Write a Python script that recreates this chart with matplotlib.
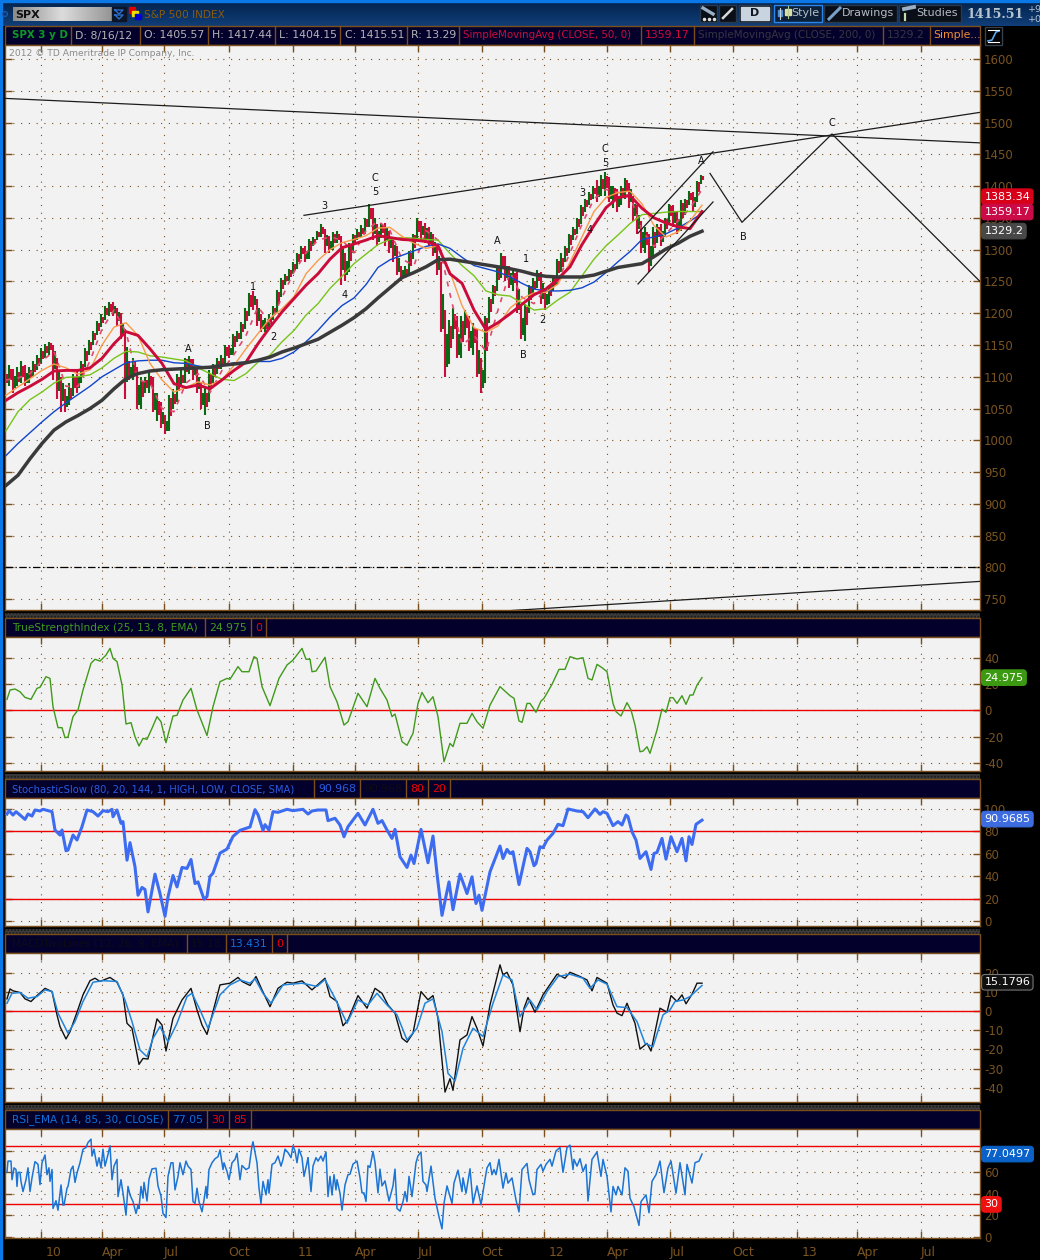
import matplotlib
matplotlib.use('Agg')
import matplotlib.pyplot as plt
import numpy as np
from matplotlib.colors import LinearSegmentedColormap
from matplotlib.patches import Rectangle, Circle

plt.rcParams['axes.unicode_minus'] = False

# x axis is in sessions (one trading day is one pixel wide on this chart)
tick_pos = [40.5, 101.5, 164, 228.5, 292.5, 354.5, 417.5, 481.5, 544, 606.5, 669.5, 732.5, 796.5, 856.5, 920.5]
tick_txt = ['10', 'Apr', 'Jul', 'Oct', '11', 'Apr', 'Jul', 'Oct', '12', 'Apr', 'Jul', 'Oct', '13', 'Apr', 'Jul']

# candles, one for every 4 sessions
closes = [1095,1105,1090,1100,1110,1095,1105,1115,1125,1135,
          1145,1150,1130,1090,1080,1060,1075,1095,1090,1115,
          1135,1150,1165,1180,1190,1205,1210,1205,1195,1170,
          1120,1105,1115,1060,1085,1090,1095,1050,1050,1030,
          1020,1060,1065,1095,1095,1125,1125,1110,1085,1060,
          1065,1100,1110,1120,1125,1145,1140,1160,1165,1180,
          1200,1225,1220,1195,1180,1180,1190,1205,1230,1250,
          1255,1265,1275,1290,1300,1290,1310,1315,1325,1330,
          1315,1305,1320,1320,1290,1270,1300,1320,1325,1330,
          1345,1360,1335,1320,1335,1325,1310,1300,1270,1260,
          1265,1290,1320,1340,1330,1325,1320,1300,1275,1180,
          1130,1170,1190,1140,1180,1190,1150,1170,1110,1090,
          1190,1220,1240,1270,1285,1260,1250,1260,1210,1170,
          1205,1240,1245,1260,1230,1220,1240,1250,1280,1280,
          1300,1320,1330,1345,1365,1375,1385,1395,1390,1405,
          1410,1385,1395,1375,1395,1405,1385,1360,1340,1310,
          1320,1285,1320,1330,1320,1345,1365,1350,1335,1370,
          1375,1385,1375,1405,1415]
highs = [1115,1118,1112,1115,1125,1118,1115,1125,1135,1145,
         1152,1155,1150,1130,1100,1080,1090,1105,1110,1125,
         1145,1158,1172,1188,1198,1212,1218,1217,1208,1200,
         1175,1125,1130,1115,1100,1100,1108,1100,1075,1060,
         1040,1072,1080,1105,1110,1130,1132,1128,1115,1090,
         1085,1110,1120,1130,1135,1150,1150,1167,1172,1186,
         1208,1232,1235,1222,1198,1192,1198,1212,1236,1255,
         1262,1270,1280,1295,1305,1305,1316,1320,1330,1340,
         1332,1322,1328,1330,1322,1295,1310,1325,1332,1338,
         1350,1372,1365,1340,1342,1342,1330,1315,1305,1275,
         1275,1298,1325,1350,1345,1342,1335,1325,1305,1280,
         1205,1190,1208,1195,1195,1205,1195,1185,1175,1130,
         1195,1225,1245,1275,1295,1290,1275,1268,1265,1215,
         1215,1245,1255,1268,1265,1240,1245,1260,1285,1295,
         1305,1325,1335,1350,1370,1380,1390,1400,1410,1418,
         1422,1415,1400,1395,1400,1413,1405,1385,1370,1345,
         1335,1325,1335,1340,1340,1350,1372,1370,1360,1378,
         1380,1392,1390,1408,1418]
lows = [1085,1085,1075,1085,1090,1085,1090,1100,1110,1120,
        1130,1135,1095,1065,1045,1045,1055,1070,1075,1090,
        1115,1135,1150,1165,1178,1190,1195,1195,1180,1160,
        1065,1095,1095,1050,1050,1075,1075,1045,1030,1020,
        1010,1015,1050,1060,1085,1090,1105,1095,1075,1050,
        1040,1060,1090,1105,1112,1120,1130,1135,1155,1160,
        1175,1195,1205,1180,1170,1170,1175,1190,1200,1225,
        1245,1250,1262,1270,1285,1280,1285,1305,1315,1320,
        1295,1295,1300,1310,1245,1250,1265,1295,1315,1320,
        1325,1335,1315,1305,1318,1305,1295,1280,1260,1250,
        1255,1260,1285,1315,1315,1310,1305,1290,1260,1170,
        1100,1120,1160,1130,1130,1165,1140,1135,1100,1075,
        1090,1185,1215,1235,1255,1250,1240,1235,1200,1160,
        1157,1200,1230,1240,1215,1205,1215,1235,1245,1265,
        1280,1295,1315,1325,1340,1360,1370,1380,1375,1385,
        1385,1375,1365,1360,1370,1380,1365,1345,1325,1295,
        1295,1265,1285,1310,1305,1320,1340,1335,1325,1330,
        1355,1370,1360,1375,1404]

# moving averages, read every 12 sessions
sma200 = [929,945,971,995,1016,1029,1039,1050,1063,1081,1097,1105,1109,1111,1112,1113,1114,1115,1118,1120,
          1122,1126,1131,1139,1145,1152,1159,1170,1181,1193,1207,1224,1240,1256,1264,1273,1284,1285,1282,1279,
          1276,1273,1270,1266,1261,1258,1257,1257,1257,1260,1266,1272,1275,1278,1289,1301,1310,1321,1329]
sma_blue = [976,995,1012,1029,1045,1059,1072,1085,1100,1111,1122,1125,1126,1126,1122,1121,1117,1114,1118,1122,
            1123,1124,1124,1129,1139,1155,1173,1194,1212,1224,1245,1272,1284,1291,1298,1305,1309,1302,1288,1275,
            1270,1265,1257,1247,1238,1235,1235,1236,1240,1249,1264,1281,1297,1316,1320,1325,1334,1345,1357]
sma_green = [1015,1045,1064,1076,1090,1099,1100,1103,1114,1129,1140,1139,1133,1131,1128,1125,1114,1105,1096,1094,
             1105,1123,1134,1155,1173,1197,1215,1239,1258,1278,1293,1308,1316,1319,1318,1316,1315,1294,1275,1259,
             1235,1229,1227,1216,1205,1207,1221,1233,1259,1285,1306,1323,1341,1355,1357,1359,1360,1360,1360]
sma_red = [1063,1075,1085,1096,1109,1110,1110,1114,1129,1152,1171,1165,1144,1121,1089,1083,1087,1081,1095,1110,
           1123,1152,1178,1202,1223,1244,1262,1285,1303,1309,1315,1322,1319,1316,1315,1313,1306,1262,1247,1205,
           1174,1185,1199,1214,1229,1238,1254,1273,1308,1338,1366,1382,1385,1365,1350,1342,1336,1333,1360]
sma_orange = [1071,1084,1097,1110,1120,1114,1104,1111,1150,1178,1185,1165,1121,1095,1076,1083,1092,1087,1095,1118,
              1144,1168,1192,1207,1226,1262,1283,1300,1311,1316,1322,1334,1335,1321,1310,1302,1306,1265,1212,1177,
              1170,1180,1208,1223,1232,1233,1246,1280,1320,1360,1382,1390,1392,1372,1338,1320,1328,1345,1370]
sma_dash = [1095,1098,1105,1125,1140,1085,1085,1125,1175,1205,1170,1095,1090,1050,1045,1090,1105,1075,1110,1135,
            1165,1210,1185,1225,1265,1295,1315,1320,1315,1295,1330,1345,1330,1285,1275,1330,1315,1230,1150,1165,
            1140,1205,1265,1225,1215,1240,1250,1295,1340,1380,1395,1390,1385,1330,1305,1325,1345,1365,1395]

# trend lines as (session, price)
top_line = [(5, 1538), (980, 1468)]
rise_line = [(304, 1354), (980, 1516)]
floor_line = [(510, 732), (980, 778)]
path_line = [(710, 1420), (742, 1343), (832, 1482), (980, 1250)]
chan_low = [(638, 1246), (713, 1375)]
chan_high = [(638, 1326), (713, 1454)]

wave_txt = ['A','B','1','2','3','C','5','4','A','1','B','2','3','4','C','5','A','B','C']
wave_x = [188,207,253,273,324,375,375,345,497,526,523,542,582,590,605,605,701,743,832]
wave_y = [1143,1022,1242,1162,1368,1413,1391,1228,1313,1285,1135,1190,1389,1331,1458,1436,1439,1320,1499]

tsi_pts = [(7,8.4),(10,15.5),(15,16.3),(20,14.2),(25,9.9),(31,8.4),(37,16.8),(40,17.6),(46,25.7),(50,24.4),(53,2.8),(58,-13.2),
           (62,-13.2),(65,-20.9),(68,-20.4),(73,-4.8),(78,0.3),(83,15.5),(91,35.9),(95,39),(100,37.6),(106,42.2),(110,47.3),(113,39.7),
           (117,37.2),(122,19.5),(126,-10.4),(131,-9.4),(135,-20.1),(139,-27.2),(143,-21.4),(147,-22.1),(152,-13.7),(157,-4.8),(161,-8.7),
           (166,-24.7),(173,-4.3),(177,-3.8),(183,7.9),(191,16.8),(197,0.3),(201,-7.4),(207,-19.2),(213,2.8),(220,21.9),(227,24.4),(230,23.7),
           (238,33.4),(242,29.5),(249,29.5),(254,41),(257,39.7),(262,18.1),(270,3.6),(279,24.4),(287,34.6),(293,38.4),(302,47.3),(306,39),
           (310,39),(312,29.5),(316,30),(325,40.5),(330,18.1),(337,6.6),(344,-11.2),(348,-8.7),(358,13),(367,2.8),(375,24.4),(380,16.8),
           (387,7.9),(392,-4.8),(395,-2.8),(402,-23.9),(407,-26.7),(413,-17.6),(418,5.3),(422,13.7),(428,5.8),(433,10.4),(438,-4.8),(444,-39.2),
           (450,-25.2),(453,-27.7),(460,-9.9),(467,-9.9),(472,-2.3),(477,-8.7),(483,-13.7),(490,4),(500,18.1),(510,11.2),(514,9.2),(519,-8.1),
           (522,-9.2),(527,5.3),(530,5.3),(536,-1.5),(541,7.1),(544,9.2),(552,19.8),(559,31.3),(565,31.3),(570,41),(577,39.2),(583,40.2),
           (588,24.4),(592,23.2),(597,35.1),(602,32.6),(607,29.5),(613,5.3),(616,-1),(621,-4.3),(627,5.9),(631,0.3),(635,-11.2),(640,-31.6),
           (643,-31.1),(647,-27.8),(650,-32.8),(657,-15),(662,1),(666,-1.5),(670,9.7),(673,9.7),(677,5.3),(682,11.2),(686,4.6),(690,11.7),
           (693,11.7),(697,19.3),(702,25)]

stoch_pts = [(7,95.5),(9,98.5),(13,94.6),(16,97.6),(20,94.6),(25,90.7),(28,95.5),(32,93.7),(35,99.1),(40,98.2),(43,99.7),(52,97.6),
             (55,81.2),(60,76.7),(62,81.2),(66,62.7),(68,63.3),(73,76.7),(77,72.3),(82,84.2),(87,99.1),(93,97.6),(98,93.7),(103,98.5),
             (108,97.6),(112,99.7),(113,93.1),(117,99.1),(121,87.2),(123,88.7),(127,54.3),(130,69.9),(135,48.4),(138,23),(142,29.9),(145,28.1),
             (148,8.1),(155,41.8),(160,24.5),(165,4.2),(168,21.5),(173,40.6),(177,30.4),(182,47.8),(187,46.9),(191,54.9),(195,33.4),(198,34.9),
             (204,19.4),(207,21.8),(210,39.7),(213,42.7),(220,60.6),(227,64.2),(233,75.5),(240,80.9),(250,83.9),(255,99.4),(258,94.9),(263,80.9),
             (265,86),(269,81.2),(273,97.6),(278,97),(287,99.7),(293,98.5),(303,99.7),(308,95.5),(312,98.2),(318,99.1),(326,99.1),(328,89.6),
             (335,91.7),(340,85.7),(344,75.2),(348,84.2),(358,96.1),(365,85.7),(373,99.7),(378,87.2),(382,89.6),(387,81.2),(392,73.7),(395,81.8),
             (400,57.3),(407,47.8),(411,58.8),(414,51.3),(421,81.8),(428,52),(433,75.8),(437,42.2),(442,5),(449,34.9),(453,10.1),(460,41.8),
             (467,24.5),(472,39.4),(476,15.6),(479,23),(482,9.5),(490,43.9),(500,66.9),(503,55.8),(507,63.9),(510,60.3),(513,61.8),(519,32.5),
             (527,64.8),(530,61.8),(534,49.3),(536,51.3),(540,66.3),(543,65.4),(547,72.2),(553,78.2),(558,86.3),(563,85.1),(568,100),(577,98.2),
             (583,97.6),(588,92.2),(595,100),(600,95.2),(603,97.6),(607,96.1),(613,85.1),(618,88.7),(622,85.7),(626,94.6),(628,93.1),(632,79.7),
             (636,72.2),(640,55.8),(646,61.8),(651,46),(654,60.3),(657,61.2),(662,73.7),(666,55.2),(671,75.2),(677,61.8),(682,73.7),(686,53.7),
             (689,75.2),(692,68.3),(696,86.3),(702,90)]

macd_pts = [(7,6.5),(10,11.7),(13,10.7),(20,9.8),(25,6.5),(31,5.1),(37,8.2),(45,12),(52,10.3),(57,-1.9),(60,-8),(66,-14.5),(70,-10.7),
            (77,-0.5),(83,8.6),(90,16),(95,17.3),(100,15.6),(110,17.7),(117,15.2),(123,8.6),(127,-6.3),(132,-8.9),(139,-27.8),(143,-24.7),
            (148,-25),(157,-4),(162,-7.2),(166,-20.8),(173,-3.7),(182,5.9),(191,12),(197,0.7),(202,-7.2),(207,-12.1),(213,-0.2),(220,13.8),
            (230,14.7),(238,17.7),(242,15.6),(250,13.5),(256,18.2),(262,11.2),(270,2.4),(278,12),(287,15.2),(293,14.7),(302,15.9),(312,11.2),
            (325,17.3),(330,7.7),(337,5.1),(343,-7.6),(348,-4.5),(358,8.2),(367,1.6),(375,12),(382,9.4),(388,3.3),(395,-1),(402,-14.1),(407,-16.2),
            (413,-11.5),(421,10.3),(428,6),(433,8.2),(438,-3.7),(445,-42.3),(450,-35.3),(453,-41.4),(460,-15),(467,-12.4),(472,-2.8),(477,-8.9),
            (483,-18.2),(490,3.3),(500,24.3),(503,19),(507,20.4),(513,13.8),(520,-10.7),(524,1.6),(528,7.2),(535,-0.5),(543,8.6),(557,19.4),
            (565,17.3),(570,20.4),(580,18.2),(587,16.4),(592,10.7),(597,17.7),(607,14.7),(613,3.3),(617,-1),(622,-2.3),(627,4.2),(635,-6.3),
            (640,-19.8),(647,-16.8),(651,-20.8),(660,1.6),(667,-0.5),(671,8.2),(677,5.1),(682,8.6),(686,3.9),(692,8.9),(697,14.7),(702,14.7)]

signal_pts = [(7,4.2),(12,9.4),(20,9.8),(28,6.8),(37,7.7),(45,11.2),(52,10.3),(58,-1),(68,-11.5),(75,-5.4),(83,5.1),(93,15.2),(103,16),
              (117,15.6),(125,5.9),(132,-5.4),(140,-20.3),(147,-23.8),(153,-14.2),(160,-8),(168,-16),(177,-6.3),(187,7.7),(192,9.4),(200,0.7),
              (208,-8.9),(220,8.6),(230,13.8),(240,16.4),(250,14.7),(255,17),(263,9.4),(271,4.2),(283,13.8),(302,14.7),(317,13),(325,16.6),(335,6.8),
              (347,-6.3),(358,5.9),(368,3.3),(377,9.4),(387,3.3),(397,-1.9),(407,-15),(417,-8.9),(425,4.2),(433,6.5),(442,-10.7),(448,-32.5),
              (455,-36.5),(463,-19.4),(473,-8.9),(483,-13.2),(493,4.2),(503,19),(512,16.4),(520,-2.8),(530,5.9),(537,0.7),(547,10.3),(558,18.2),
              (570,19.4),(583,17.3),(590,12),(598,16.4),(607,14.2),(617,2.4),(627,1.9),(637,-5.4),(645,-16.8),(653,-18.6),(663,-1.9),(670,0.7),
              (675,5.1),(683,5.9),(690,7.7),(702,13.5)]

rsi_pts = [(7,60.4),(8,70.5),(11,70.5),(12,53.1),(14,64.2),(16,62.6),(17,46.8),(18,60),(20,60),(21,51.5),(23,42),(26,53.1),(28,64.2),(30,42),
           (32,54.8),(35,70),(38,67.5),(40,48.5),(42,69),(45,76.2),(47,57.8),(49,64.2),(50,51.5),(52,62.6),(53,26.2),(56,33.5),(58,24.6),(61,48.2),
           (63,29.4),(64,29.4),(67,45.2),(68,46.8),(71,62.6),(73,65.8),(75,50.6),(77,59.4),(80,68.9),(83,81.6),(86,83.2),(88,87.9),(91,91),(92,75.2),
           (94,81.6),(97,65.8),(99,73.7),(101,64.2),(103,81.6),(105,65.8),(108,76.8),(110,84.8),(112,53.1),(114,65.8),(117,72.1),(118,37.3),(121,53.1),
           (123,40.5),(126,19.9),(128,46.8),(130,38.9),(133,32.6),(136,21.5),(138,29.4),(139,26.2),(141,46.8),(143,35.8),(144,50.6),(147,33.2),(149,53.7),
           (152,63.2),(156,63.8),(158,47.3),(161,37.8),(163,21.5),(166,17.7),(168,56.2),(171,68.9),(173,68.9),(175,43.6),(178,56.2),(180,68.9),(183,57.8),
           (186,70.5),(188,65.8),(191,62.6),(193,32.6),(195,31),(197,45.2),(199,32.6),(202,23.1),(204,34.1),(206,46.8),(207,35.8),(209,62.6),(212,68.9),
           (215,72.7),(218,74.6),(220,80.9),(223,62.6),(224,68.9),(227,60.8),(229,53.1),(232,68.9),(235,72.1),(237,77.8),(240,53.1),(242,66.4),(246,62.6),
           (249,64.2),(252,84.8),(253,88.6),(257,68.9),(259,45.2),(261,30.9),(263,51.5),(266,38.9),(268,53.1),(269,40.5),(272,67.4),(275,69),(278,75.2),
           (281,65.8),(283,72.1),(285,81.6),(288,78.5),(291,73.7),(293,84.8),(295,80),(297,69),(299,81.6),(302,73.7),(304,56.2),(307,68.9),(308,73.7),
           (311,42),(313,65.8),(316,73.7),(318,70.5),(321,75.2),(323,70.5),(326,79),(328,37.3),(330,56.2),(332,38.9),(334,57.8),(336,43.6),(337,53.1),
           (340,40.5),(342,24.6),(345,48.2),(348,57.8),(350,58.2),(353,67.7),(357,70.5),(360,55),(362,40.8),(364,40.8),(366,32.8),(368,66.2),(370,64.6),
           (373,79.5),(375,69.4),(378,40.8),(380,63),(382,47.3),(385,52),(389,33.2),(393,47.3),(395,63),(397,26.2),(400,23.7),(403,32.6),(405,42),(407,32.6),
           (409,56.2),(412,37.3),(416,69),(418,75.4),(421,79),(423,51.5),(426,48.2),(427,42),(431,65.8),(435,35.8),(439,18.4),(442,7.2),(444,31),(447,47.3),
           (452,31),(454,50),(458,62),(462,42),(463,54.8),(466,40.5),(470,63.3),(473,31),(477,47.3),(481,29.7),(485,53.4),(487,64.2),(490,69),(492,57.8),
           (494,62.6),(496,57.8),(499,72.1),(503,45.2),(506,59.4),(508,49.9),(512,54.8),(516,34.1),(519,23),(522,62.6),(527,68.3),(529,53.1),(533,38.9),
           (535,40.5),(537,62.6),(541,67.4),(543,61),(546,67.4),(550,72.1),(552,65.8),(556,80),(560,83.2),(563,60),(567,83.2),(570,85.4),(573,62.6),(574,72.1),
           (577,65.8),(580,72.7),(583,60.8),(586,67.4),(588,33.2),(592,72.1),(597,79),(601,56.2),(603,72.1),(607,56.2),(611,23),(613,46.8),(616,38.9),(618,46.8),
           (622,38.9),(625,64.2),(628,61),(630,35.8),(634,27.8),(639,10.4),(641,32.6),(646,38.9),(649,22.2),(652,51.5),(656,57.8),(660,70.5),(664,41),(668,64.2),
           (671,70.5),(676,40.5),(680,69),(685,38.9),(687,67.4),(692,50),(695,69),(699,70.5),(702,77)]

W, H = 1040, 1260
BROWN = '#7a4f1c'
NAVY = '#04002c'
PANEL = '#f2f2f2'
UP = '#0a6a14'
DOWN = '#cb0b3a'

fig = plt.figure(figsize=(W / 100, H / 100), dpi=100, facecolor='black')

# window chrome, drawn in pixel coordinates
chrome = fig.add_axes([0, 0, 1, 1], zorder=0)
chrome.axis('off')
top_cmap = LinearSegmentedColormap.from_list('top', ['#04244e', '#103e78'])
chrome.imshow(np.linspace(0, 1, 24).reshape(-1, 1), extent=[0, W, 26, 2], aspect='auto', cmap=top_cmap)
chrome.add_patch(Rectangle((0, 0), W, 2, color='#0a78e6'))
chrome.add_patch(Rectangle((0, 0), 1.5, H, color='#0a78e6'))
grey_cmap = LinearSegmentedColormap.from_list('grey', ['#8c8c8c', '#dcdcdc', '#969696'])
chrome.imshow(np.linspace(0, 1, 60).reshape(1, -1), extent=[13, 112, 21, 7], aspect='auto', cmap=grey_cmap)
chrome.add_patch(Rectangle((112, 7), 14, 14, color='#0b1526'))
chrome.plot([115, 123, 119, 115], [10, 10, 14, 10], color='#2a6cc8', lw=1)
chrome.plot([115, 123, 119, 115], [15, 15, 19, 15], color='#2a6cc8', lw=1)
chrome.add_patch(Circle((5, 14), 2.5, fc='#0a3a80', ec='#1a5cb0', lw=0.8))
chrome.add_patch(Rectangle((129, 7), 6, 6, color='#e00000'))
chrome.add_patch(Rectangle((132, 11), 6, 5, color='#e8e000'))
chrome.add_patch(Rectangle((135, 14), 6, 5, color='#0000d0'))
chrome.text(15, 14.5, 'SPX', color='#101010', fontsize=8, fontweight='bold', va='center')
chrome.text(144, 14.5, 'S&P 500 INDEX', color='#8a5a10', fontsize=7.6, va='center')

# toolbar on the right
for x0, x1, lab in [(700, 717, ''), (719, 736, ''), (739, 771, ''), (774, 822, 'Style'), (824, 897, 'Drawings'), (899, 961, 'Studies')]:
    fc = '#0a0e16' if lab != 'Style' else '#0b2038'
    ec = '#28394e' if lab != 'Style' else '#2a86e8'
    chrome.add_patch(Rectangle((x0, 5), x1 - x0, 17, fc=fc, ec=ec, lw=1))
    if lab:
        chrome.text(x1 - 3, 13, lab, color='#b4bcc4', fontsize=8, va='center', ha='right')
chrome.plot([703, 713], [8, 14], color='#9ab0c4', lw=2.4)
chrome.plot([704, 709, 714], [19, 19, 19], color='#e0e0e0', lw=0, marker='.', ms=3)
chrome.plot([723, 732], [18, 9], color='#d8d8d8', lw=1.8)
chrome.add_patch(Rectangle((741, 7), 28, 13, color='#c8d4e0'))
chrome.text(755, 13.5, 'D', color='#101820', fontsize=8, fontweight='bold', ha='center', va='center')
chrome.plot([780, 780], [8, 19], color='#c8d0d8', lw=0.8)
chrome.plot([788, 788], [6, 18], color='#b8c890', lw=0.8)
chrome.add_patch(Rectangle((778, 10), 4, 6, color='#4a90d8'))
chrome.add_patch(Rectangle((785, 9), 6, 6, color='#d8e0a8'))
chrome.plot([829, 840], [19, 8], color='#7aa0c8', lw=2.2)
chrome.plot([904, 914], [9, 7], color='#9ab0c4', lw=2.8)
chrome.plot([905, 905], [14, 20], color='#c8d8a8', lw=1.6)
chrome.text(966, 14.5, '1415.51', color='#b8c4d0', fontsize=9.2, fontweight='bold', family='DejaVu Serif', va='center')
chrome.text(1028, 9.5, '+9', color='#b8c4d0', fontsize=6.8, va='center')
chrome.text(1028, 20, '+0', color='#b8c4d0', fontsize=6.8, va='center')
chrome.add_patch(Rectangle((985, 27), 17, 18, fc='black', ec='#38404a', lw=1))
chrome.plot([988, 992, 996, 999], [41, 40, 32, 31], color='#58a8f0', lw=1.2)
chrome.plot([988, 999], [30, 30], color='white', lw=0.8)
chrome.plot([988, 999], [42, 42], color='white', lw=0.8)


def header(top, bottom, seps, cells):
    # the navy title strip above a panel, with the hatch strip over it
    chrome.add_patch(Rectangle((5, top - 5.5), 975, 5, color='#3c3c3c', hatch='.....', ec='#1a1a1a', lw=0))
    chrome.add_patch(Rectangle((4.5, top), 975.5, bottom - top, fc=NAVY, ec=BROWN, lw=1))
    for sx in seps:
        chrome.plot([sx, sx], [top, bottom], color=BROWN, lw=1)
    for tx, txt, col, sz in cells:
        chrome.text(tx, (top + bottom) / 2 + 0.5, txt, color=col, fontsize=sz, va='center')


chrome.add_patch(Rectangle((4.5, 26), 975.5, 19, fc=NAVY, ec=BROWN, lw=1))
for sx in [71, 140, 208, 275, 340, 407, 459, 641, 694, 883, 930]:
    chrome.plot([sx, sx], [26, 45], color=BROWN, lw=1)
for tx, txt, col, sz in [(75, 'D: 8/16/12', '#b4b4b4', 7.8), (144, 'O: 1405.57', '#b4b4b4', 7.8), (212, 'H: 1417.44', '#b4b4b4', 7.8),
                         (279, 'L: 1404.15', '#b4b4b4', 7.8), (345, 'C: 1415.51', '#b4b4b4', 7.8), (411, 'R: 13.29', '#b4b4b4', 7.8),
                         (463, 'SimpleMovingAvg (CLOSE, 50, 0)', '#cc0c3c', 7.4), (645, '1359.17', '#cc0c3c', 7.8),
                         (698, 'SimpleMovingAvg (CLOSE, 200, 0)', '#363640', 7.5), (887, '1329.2', '#363640', 7.8),
                         (933, 'Simple...', '#f09030', 7.8)]:
    chrome.text(tx, 35.5, txt, color=col, fontsize=sz, va='center')
chrome.text(12, 35.5, 'SPX 3 y D', color='#0c9a24', fontsize=7.4, fontweight='bold', va='center')

header(618, 637, [205, 251, 266],
       [(12, 'TrueStrengthIndex (25, 13, 8, EMA)', '#3f9a1a', 7.6), (209, '24.975', '#3f9a1a', 7.8), (255, '0', '#ee0000', 7.8)])
header(779, 798, [314, 360, 406, 428, 450],
       [(12, 'StochasticSlow (80, 20, 144, 1, HIGH, LOW, CLOSE, SMA)', '#2a5ce0', 7.2), (318, '90.968', '#2a5ce0', 7.8),
        (364, '90.968', '#0c0c14', 7.8), (410, '80', '#ee0000', 7.8), (432, '20', '#ee0000', 7.8)])
header(934, 953, [187, 226, 272, 287],
       [(12, 'MACDTwoLines (12, 26, 9, EMA)', '#0c0c14', 7.6), (191, '15.18', '#0c0c14', 7.8), (230, '13.431', '#1070d8', 7.8),
        (276, '0', '#ee0000', 7.8)])
header(1110, 1129, [168, 207, 229, 251],
       [(12, 'RSI_EMA (14, 85, 30, CLOSE)', '#1070d8', 7.6), (172, '77.05', '#1070d8', 7.8), (211, '30', '#ee0000', 7.8),
        (233, '85', '#ee0000', 7.8)])

chrome.set_xlim(0, W)
chrome.set_ylim(H, 0)


def make_pane(top, bottom, yticks, ylim):
    ax = fig.add_axes([5 / W, 1 - bottom / H, 975 / W, (bottom - top) / H], facecolor=PANEL, zorder=2)
    ax.set_xlim(5, 980)
    ax.set_ylim(*ylim)
    ax.set_xticks(tick_pos)
    ax.set_yticks(yticks)
    ax.set_xticklabels([])
    ax.tick_params(axis='both', direction='in', length=5, width=1, color=BROWN, top=True, bottom=True,
                   left=True, right=True, labelleft=False, labelright=True, labelcolor='#7a5420', labelsize=8.5, pad=3)
    ax.grid(True, color=BROWN, linestyle=(0, (1, 6)), linewidth=0.8, zorder=0)
    ax.set_axisbelow(True)
    for s in ax.spines.values():
        s.set_color(BROWN)
        s.set_linewidth(1)
    return ax


def tag(ax, value, txt, fc, ec=None, tc='white'):
    ax.text(1.0045, value, txt, transform=ax.get_yaxis_transform(), color=tc, fontsize=8, va='center', clip_on=False, zorder=9,
            bbox=dict(boxstyle='round,pad=0.25,rounding_size=0.3', fc=fc, ec=ec or fc, lw=0.8))


# price panel
ax = make_pane(45, 610, list(range(750, 1601, 50)), (733, 1622))
bar_x = 6 + 4 * np.arange(len(closes))
closes_a, highs_a, lows_a = np.array(closes), np.array(highs), np.array(lows)
opens_a = np.r_[closes_a[0], closes_a[:-1]]
bar_col = [UP if c >= o else DOWN for o, c in zip(opens_a, closes_a)]
other_col = [DOWN if c >= o else UP for o, c in zip(opens_a, closes_a)]
# each group holds up and down days, so it gets a full bar and a shorter one of the other colour
ax.vlines(bar_x - 1, lows_a, highs_a, colors=bar_col, linewidth=1.5, zorder=2)
ax.vlines(bar_x + 1, (lows_a + closes_a) / 2, (highs_a + closes_a) / 2, colors=other_col, linewidth=1.5, zorder=2)

ma_x = 6 + 12 * np.arange(len(sma200))
ax.plot(ma_x, sma_dash, color='#e2486e', lw=1.2, linestyle=(0, (3, 4)), zorder=3)
ax.plot(ma_x, sma_green, color='#78c41a', lw=1, zorder=3)
ax.plot(ma_x, sma_blue, color='#1046cc', lw=1, zorder=3)
ax.plot(ma_x, sma_orange, color='#fb9a48', lw=1, zorder=3)
ax.plot(ma_x, sma_red, color='#cb0b3a', lw=2.1, zorder=4)
ax.plot(ma_x, sma200, color='#3a3a3a', lw=2.5, zorder=4)

for line in [top_line, rise_line, floor_line, path_line, chan_low, chan_high]:
    xs, ys = zip(*line)
    ax.plot(xs, ys, color='#1c1c1c', lw=0.9, zorder=5)
ax.axhline(800, color='black', lw=0.9, linestyle=(0, (6, 2, 1, 2)), zorder=5)
for tx, ty, txt in zip(wave_x, wave_y, wave_txt):
    ax.text(tx, ty, txt, color='#101010', fontsize=7, ha='center', va='center', zorder=6)
ax.text(9, 1608, '2012 © TD Ameritrade IP Company, Inc.', color='#8a8a8a', fontsize=6.6, va='center', zorder=1)
tag(ax, 1383.34, '1383.34', '#d80018')
tag(ax, 1359.17, '1359.17', '#cb0b48')
tag(ax, 1329.2, '1329.2', '#484848')

# true strength
ax = make_pane(637, 771, [-40, -20, 0, 20, 40], (-46.3, 56))
ax.axhline(0, color='#ee0000', lw=1, zorder=2)
ax.plot(*zip(*tsi_pts), color='#3f9a1a', lw=1, zorder=3)
tag(ax, 24.975, '24.975', '#3c9a12')

# slow stochastic
ax = make_pane(798, 926, [0, 20, 40, 60, 80, 100], (-4.5, 109.8))
ax.axhline(80, color='#ee0000', lw=1, zorder=2)
ax.axhline(20, color='#ee0000', lw=1, zorder=2)
ax.plot(*zip(*stoch_pts), color='#3d6cf0', lw=2.2, zorder=3)
tag(ax, 90.9685, '90.9685', '#3d6ce0')

# macd
ax = make_pane(953, 1102, [-40, -30, -20, -10, 0, 10, 20], (-47.5, 30.5))
ax.axhline(0, color='#ee0000', lw=1, zorder=2)
ax.plot(*zip(*macd_pts), color='#101010', lw=1, zorder=3)
ax.plot(*zip(*signal_pts), color='#2184dc', lw=1.1, zorder=3)
tag(ax, 15.1796, '15.1796', '#101010', ec='#777777')

# rsi
ax = make_pane(1129, 1238, [0, 20, 40, 60, 80], (-1.4, 100.5))
ax.axhline(85, color='#ee0000', lw=1, zorder=2)
ax.axhline(30, color='#ee0000', lw=1, zorder=2)
ax.plot(*zip(*rsi_pts), color='#1c74d4', lw=1.1, zorder=3)
tag(ax, 77.0497, '77.0497', '#0a62c8')
tag(ax, 30, '30', '#ee1010')
for p, t in zip(tick_pos, tick_txt):
    ax.text(p + (5 if t.isdigit() else 0), -0.13, t, transform=ax.get_xaxis_transform(), color='#7a5420', fontsize=9,
            va='center', clip_on=False)

fig.savefig('out.png', dpi=100, facecolor='black')
